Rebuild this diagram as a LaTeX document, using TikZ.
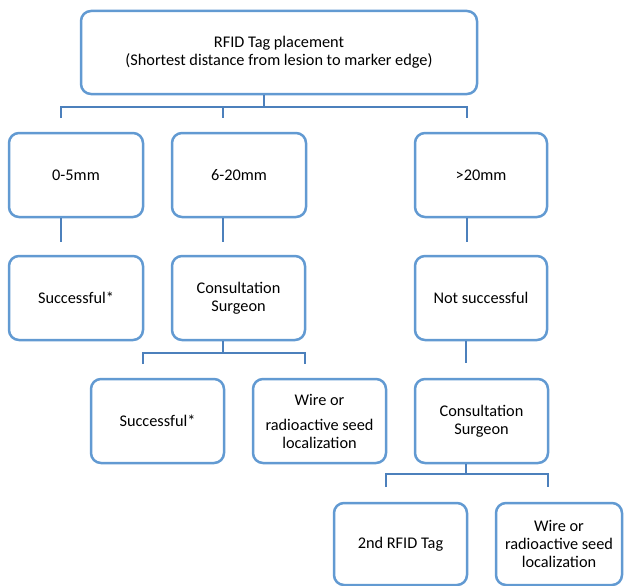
\documentclass[tikz,border=0pt]{standalone}
\usepackage{fontspec}
\setmainfont{Carlito}
\definecolor{boxblue}{RGB}{98,154,210}
\definecolor{lineblue}{RGB}{76,128,188}
\begin{document}
\begin{tikzpicture}[x=1pt,y=-1pt,
  box/.style={draw=boxblue,line width=2.5pt,rounded corners=10pt,fill=white,
    minimum width=133pt,minimum height=84pt,inner sep=0pt,align=center,
    font=\fontsize{16.3}{18}\selectfont},
  conn/.style={draw=lineblue,line width=2.5pt,line join=miter}]
\useasboundingbox (0,0) rectangle (624,586);
% boxes
\node[box,minimum width=396pt,minimum height=83pt] (top) at (279,52.5) {RFID Tag placement\\(Shortest distance from lesion to marker edge)};
\node[box,minimum width=134pt] (a1) at (76,175) {0-5mm};
\node[box,minimum width=134pt] (b1) at (239,175) {6-20mm};
\node[box,minimum width=132pt] (c1) at (481,175) {>20mm};
\node[box,minimum width=134pt] (a2) at (76,298) {Successful*};
\node[box] (b2) at (238.5,298) {Consultation\\Surgeon};
\node[box,minimum width=132pt] (c2) at (481,298) {Not successful};
\node[box] (a3) at (157.5,421) {Successful*};
\node[box] (b3) at (319.5,421) {Wire or\\[7pt]radioactive seed\\localization};
\node[box] (c3) at (481.5,421) {Consultation\\Surgeon};
\node[box,minimum height=82pt] (d4) at (400.5,544) {2nd RFID Tag};
\node[box,minimum width=126pt,minimum height=82pt] (e4) at (559,544) {Wire or\\radioactive seed\\localization};
% junction coordinates
\coordinate (j0) at (264,107);
\coordinate (j0L) at (61,107);
\coordinate (j0R) at (467,107);
\coordinate (j0M) at (223,107);
\coordinate (d0L) at (61,118);
\coordinate (d0M) at (223,118);
\coordinate (d0R) at (467,118);
\coordinate (e1L) at (61,242);
\coordinate (e1M) at (223,242);
\coordinate (e1R) at (467,242);
\coordinate (j2) at (223,353);
\coordinate (j2L) at (143,353);
\coordinate (j2R) at (305,353);
\coordinate (d2L) at (143,364);
\coordinate (d2R) at (305,364);
\coordinate (e2) at (466,363);
\coordinate (j3) at (466,474);
\coordinate (j3L) at (386,474);
\coordinate (j3R) at (548,474);
\coordinate (d3L) at (386,487);
\coordinate (d3R) at (548,487);
% connectors
\draw[conn] (top.south -| j0) -- (j0);
\draw[conn] (d0L) -- (j0L) -- (j0R) -- (d0R);
\draw[conn] (j0M) -- (d0M);
\draw[conn] (a1.south -| e1L) -- (e1L);
\draw[conn] (b1.south -| e1M) -- (e1M);
\draw[conn] (c1.south -| e1R) -- (e1R);
\draw[conn] (b2.south -| j2) -- (j2);
\draw[conn] (d2L) -- (j2L) -- (j2R) -- (d2R);
\draw[conn] (c2.south -| e2) -- (e2);
\draw[conn] (c3.south -| j3) -- (j3);
\draw[conn] (d3L) -- (j3L) -- (j3R) -- (d3R);
\end{tikzpicture}
\end{document}
